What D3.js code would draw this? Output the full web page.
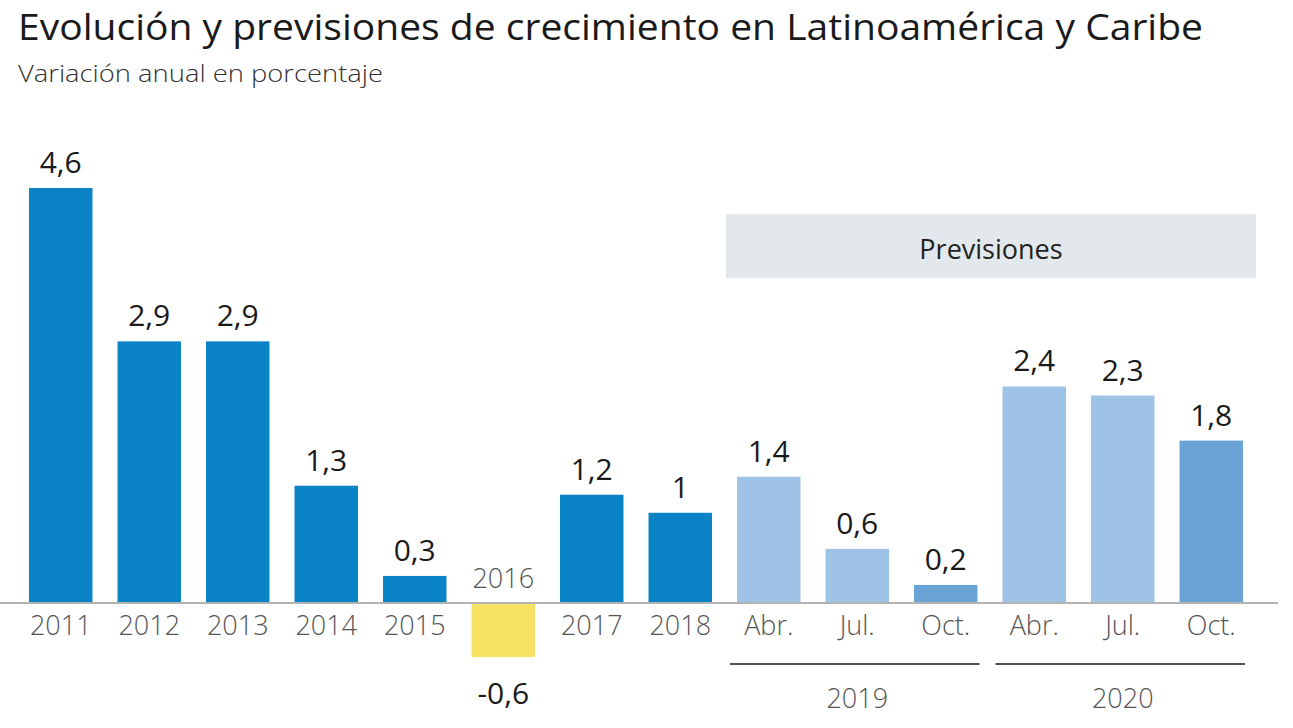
<!DOCTYPE html>
<html>
<head>
<meta charset="utf-8">
<script src="https://cdn.jsdelivr.net/npm/d3@7"></script>
<style>
  html, body { margin: 0; padding: 0; background: #ffffff; }
  svg { display: block; }
  text { font-family: "Open Sans", "Noto Sans", sans-serif; }
</style>
</head>
<body>
<svg id="chart" width="1293" height="728"></svg>
<script>
// ---- Data ----
const categories = ["2011","2012","2013","2014","2015","2016","2017","2018",
                    "Abr. 2019","Jul. 2019","Oct. 2019","Abr. 2020","Jul. 2020","Oct. 2020"];
const tickLabels = ["2011","2012","2013","2014","2015","2016","2017","2018",
                    "Abr.","Jul.","Oct.","Abr.","Jul.","Oct."];
const values = [4.6, 2.9, 2.9, 1.3, 0.3, -0.6, 1.2, 1.0, 1.4, 0.6, 0.2, 2.4, 2.3, 1.8];
const kinds  = ["real","real","real","real","real","neg","real","real",
                "prev","prev","last","prev","prev","last"];
const groupYears = ["2019", "2020"];
const groupMembers = [["Abr. 2019","Jul. 2019","Oct. 2019"], ["Abr. 2020","Jul. 2020","Oct. 2020"]];
const titleText = "Evolución y previsiones de crecimiento en Latinoamérica y Caribe";
const subtitleText = "Variación anual en porcentaje";
const forecastLabel = "Previsiones";
const forecastStart = "Abr. 2019";
const forecastEnd = "Oct. 2020";

// ---- Setup ----
const colors = { real: "#0a83c6", neg: "#f7e263", prev: "#9fc3e7", last: "#6aa4d6" };
const svg = d3.select("#chart");

const x = d3.scaleBand().domain(categories).range([16.5, 1255.5])
  .paddingInner(0.283).paddingOuter(0.1415);
const y = d3.scaleLinear().domain([0, 4.6]).range([603, 188]);

const locale = d3.formatLocale({ decimal: ",", thousands: ".", grouping: [3], currency: ["", "€"], minus: "-" });
const fmt = locale.format(".2~g");

// Title
svg.append("text").attr("x", 18).attr("y", 40)
  .attr("font-size", 36).attr("fill", "#1a1a1a")
  .attr("textLength", 1185).attr("lengthAdjust", "spacingAndGlyphs")
  .text(titleText);
svg.append("text").attr("x", 18).attr("y", 82)
  .attr("font-size", 24).attr("font-weight", 300).attr("fill", "#333")
  .attr("textLength", 365).attr("lengthAdjust", "spacingAndGlyphs")
  .text(subtitleText);

// Forecast box
const bx0 = x(forecastStart) - 11;
const bx1 = x(forecastEnd) + x.bandwidth() + 13;
svg.append("rect").attr("x", bx0).attr("y", 214).attr("width", bx1 - bx0).attr("height", 64)
  .attr("fill", "#e3e8ec");
svg.append("text").attr("x", (bx0 + bx1) / 2).attr("y", 259)
  .attr("text-anchor", "middle").attr("font-size", 27).attr("fill", "#222")
  .text(forecastLabel);

// Bars
const data = categories.map((c, i) => ({ c, v: values[i], k: kinds[i], t: tickLabels[i] }));
svg.append("g").selectAll("rect").data(data).join("rect")
  .attr("x", d => x(d.c))
  .attr("y", d => y(Math.max(0, d.v)))
  .attr("width", x.bandwidth())
  .attr("height", d => Math.abs(y(d.v) - y(0)))
  .attr("fill", d => colors[d.k]);

// Baseline
svg.append("line").attr("x1", 0).attr("x2", 1278).attr("y1", y(0)).attr("y2", y(0))
  .attr("stroke", "#b3b3b3").attr("stroke-width", 2);

// Value labels
svg.append("g").selectAll("text").data(data).join("text")
  .attr("x", d => x(d.c) + x.bandwidth() / 2)
  .attr("y", d => d.v >= 0 ? y(d.v) - 15 : y(d.v) + 47)
  .attr("text-anchor", "middle").attr("font-size", 30).attr("fill", "#1a1a1a")
  .text(d => fmt(d.v));

// Category labels
svg.append("g").selectAll("text").data(data).join("text")
  .attr("x", d => x(d.c) + x.bandwidth() / 2)
  .attr("y", d => d.v >= 0 ? y(0) + 32 : y(0) - 15)
  .attr("text-anchor", "middle").attr("font-size", 27).attr("font-weight", 300).attr("fill", "#555")
  .text(d => d.t);

// Year groups
groupYears.forEach((yr, gi) => {
  const mem = groupMembers[gi];
  const cx = x(mem[1]) + x.bandwidth() / 2;
  const gx0 = x(mem[0]) - 7;
  const gx1 = x(mem[mem.length - 1]) + x.bandwidth() + 2;
  svg.append("line").attr("x1", gx0).attr("x2", gx1).attr("y1", 664).attr("y2", 664)
    .attr("stroke", "#1a1a1a").attr("stroke-width", 1.6);
  svg.append("text").attr("x", cx).attr("y", 708)
    .attr("text-anchor", "middle").attr("font-size", 27).attr("font-weight", 300).attr("fill", "#555")
    .text(yr);
});
</script>
</body>
</html>
